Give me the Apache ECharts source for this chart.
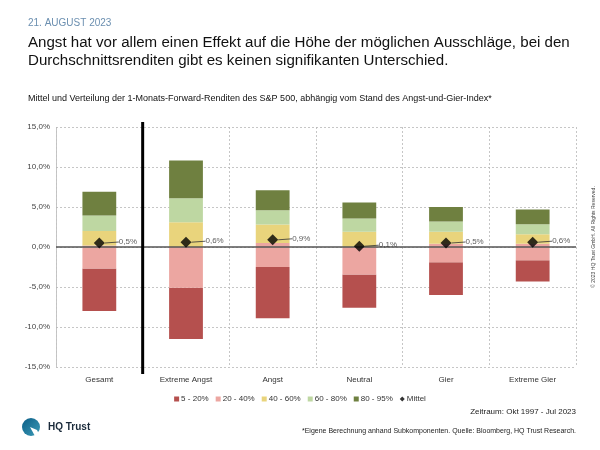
<!DOCTYPE html>
<html><head><meta charset="utf-8">
<script src="https://cdn.jsdelivr.net/npm/echarts@6/dist/echarts.min.js"></script>
<style>html,body{margin:0;padding:0;background:#fff}#c{width:600px;height:450px}</style>
</head><body><div id="c"></div>
<script>
const categories = ['Gesamt', 'Extreme Angst', 'Angst', 'Neutral', 'Gier', 'Extreme Gier'];
// percentile bounds (%)
const p5  = [-8.0, -11.5, -8.9, -7.6, -6.0, -4.3];
const p20 = [-2.7, -5.1, -2.5, -3.45, -1.9, -1.65];
const p40 = [0.2, 0.0, 0.5, 0.0, 0.4, 0.4];
const p60 = [2.0, 3.1, 2.8, 1.9, 1.9, 1.6];
const p80 = [3.95, 6.1, 4.6, 3.55, 3.2, 2.85];
const p95 = [6.9, 10.8, 7.1, 5.55, 5.0, 4.7];
const mean = [0.5, 0.6, 0.9, 0.1, 0.5, 0.6];
const bandNames = ['5 - 20%', '20 - 40%', '40 - 60%', '60 - 80%', '80 - 95%'];
const meanName = 'Mittel';
const yTicks = {min: -15, max: 15, interval: 5};

const bandColors = ['#b5504e', '#eca6a1', '#e9d47c', '#bed7a2', '#6f8040'];
const FONT = '"Liberation Sans", Arial, Helvetica, sans-serif';
const fmt = v => v.toFixed(1).replace('.', ',') + '%';

const bounds = [p5, p20, p40, p60, p80, p95];
const bandSeries = bandNames.map((name, i) => ({
  name, type: 'bar', stack: 'q', stackStrategy: 'all', barWidth: '39%',
  itemStyle: {color: bandColors[i]},
  data: categories.map((c, j) => +(bounds[i + 1][j] - bounds[i][j]).toFixed(3))
}));

const chart = echarts.init(document.getElementById('c'), null, {renderer: 'canvas'});
chart.setOption({
  animation: false,
  textStyle: {fontFamily: FONT},
  title: [
    {text: '21. AUGUST 2023', left: 23, top: 13, textStyle: {fontFamily: FONT, fontSize: 10, fontWeight: 'normal', color: '#6b8fb0'}},
    {text: 'Angst hat vor allem einen Effekt auf die Höhe der möglichen Ausschläge, bei den\nDurchschnittsrenditen gibt es keinen signifikanten Unterschied.',
     left: 23, top: 29, textStyle: {fontFamily: FONT, fontSize: 15.1, fontWeight: 'normal', color: '#111', lineHeight: 18}},
    {text: 'Mittel und Verteilung der 1-Monats-Forward-Renditen des S&P 500, abhängig vom Stand des Angst-und-Gier-Index*',
     left: 23, top: 89, textStyle: {fontFamily: FONT, fontSize: 9, fontWeight: 'normal', color: '#111'}}
  ],
  grid: {left: 56, right: 24, top: 127, bottom: 83, containLabel: false},
  legend: {
    data: bandNames.map(n => ({name: n, icon: 'rect'})).concat([{name: meanName, icon: 'diamond'}]),
    left: 'center', top: 390, itemWidth: 5, itemHeight: 5, itemGap: 7,
    textStyle: {fontFamily: FONT, fontSize: 8, color: '#333', padding: [0, 0, 0, -3]}
  },
  xAxis: {
    type: 'category', data: categories,
    axisLine: {show: false}, axisTick: {show: false},
    axisLabel: {fontFamily: FONT, fontSize: 8, color: '#333', margin: 9},
    splitLine: {show: true, lineStyle: {type: [2, 2], color: '#b8b8b8', width: 0.8}}
  },
  yAxis: {
    type: 'value', min: yTicks.min, max: yTicks.max, interval: yTicks.interval,
    axisLine: {show: true, lineStyle: {type: [2, 2], color: '#b8b8b8', width: 0.8}},
    axisTick: {show: false},
    axisLabel: {fontFamily: FONT, fontSize: 8, color: '#444', formatter: fmt, margin: 6},
    splitLine: {show: true, lineStyle: {type: [2, 2], color: '#b8b8b8', width: 0.8}}
  },
  series: [
    {name: 'base', type: 'bar', stack: 'q', stackStrategy: 'all', barWidth: '39%',
     itemStyle: {color: 'transparent'}, data: p5, silent: true,
     markLine: {silent: true, symbol: 'none', label: {show: false},
       lineStyle: {color: '#555', width: 1.5, type: 'solid'}, data: [{yAxis: 0}], z: 10}}
  ].concat(bandSeries).concat([
    {name: meanName, type: 'scatter', symbol: 'diamond', symbolSize: 11, z: 20,
     itemStyle: {color: '#000'}, data: mean,
     label: {show: true, position: 'right', distance: 14, formatter: p => fmt(p.value),
       fontFamily: FONT, fontSize: 8, color: '#333'},
     labelLayout: {dy: -1},
     labelLine: {show: true, lineStyle: {color: '#333', width: 0.8}}
    }
  ])
});

// separator after "Gesamt" and decorations
const x0 = chart.convertToPixel({xAxisIndex: 0}, 0);
const x1 = chart.convertToPixel({xAxisIndex: 0}, 1);
const yTop = chart.convertToPixel({yAxisIndex: 0}, yTicks.max);
const yBot = chart.convertToPixel({yAxisIndex: 0}, yTicks.min);
const sx = (x0 + x1) / 2;
chart.setOption({
  graphic: [
    {type: 'line', shape: {x1: sx, y1: yTop - 5, x2: sx, y2: yBot + 7}, style: {stroke: '#000', lineWidth: 3}, z: 50},
    {type: 'text', right: 24, top: 408, style: {text: 'Zeitraum: Okt 1997 - Jul 2023', font: '8px ' + FONT, fill: '#222'}},
    {type: 'text', right: 24, top: 428, style: {text: '*Eigene Berechnung anhand Subkomponenten. Quelle: Bloomberg, HQ Trust Research.', font: '7px ' + FONT, fill: '#222'}},
    {type: 'text', x: 594, y: 237, rotation: Math.PI / 2,
     style: {text: '© 2023 HQ Trust GmbH. All Rights Reserved.', font: '5px ' + FONT, fill: '#444', align: 'center', verticalAlign: 'middle'}},
    {type: 'circle', shape: {cx: 31, cy: 427, r: 9},
     style: {fill: new echarts.graphic.LinearGradient(0, 0, 1, 1, [{offset: 0, color: '#0b5d86'}, {offset: 1, color: '#3d9cb8'}])}},
    {type: 'polygon', shape: {points: [[30, 427], [37, 430], [42, 440], [36, 438]]}, style: {fill: '#fff'}},
    {type: 'text', left: 48, top: 422, style: {text: 'HQ Trust', font: 'bold 10px ' + FONT, fill: '#1a2a3a'}}
  ]
});
</script></body></html>
